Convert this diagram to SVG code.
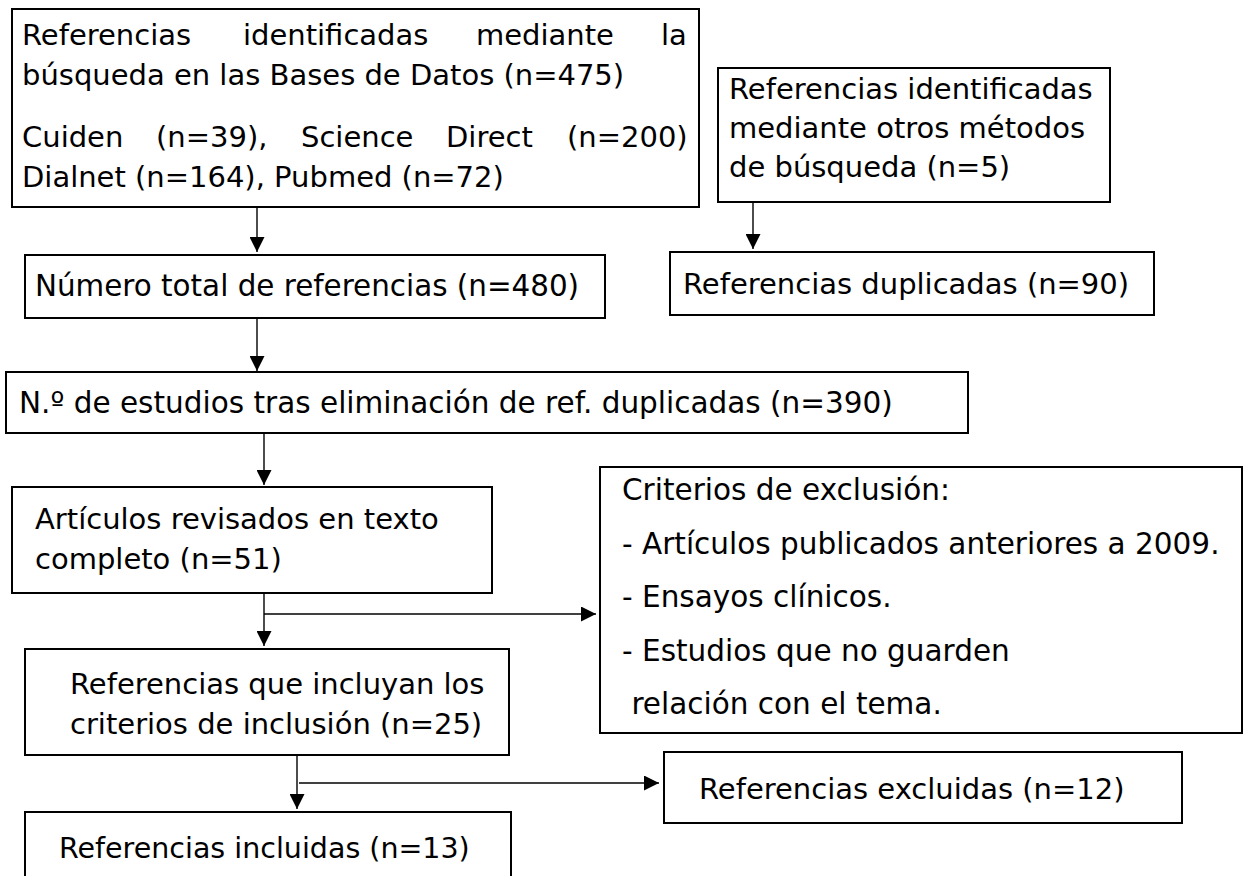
<svg xmlns="http://www.w3.org/2000/svg" width="1245" height="876" viewBox="0 0 1245 876">
<defs>
<marker id="ah" markerUnits="userSpaceOnUse" markerWidth="15" markerHeight="15" refX="15" refY="7.5" orient="auto" viewBox="0 0 15 15">
<path d="M0,0 L15,7.5 L0,15 z" fill="#000"/>
</marker>
<style>
.box{fill:#fff;stroke:#000;stroke-width:2}
.t{font-family:"DejaVu Sans",Verdana,sans-serif;font-size:29px;fill:#000}
.c{fill:none;stroke:#000;stroke-width:1.4}
</style>
</defs>
<rect width="1245" height="876" fill="#fff"/>
<g id="n1">
<rect class="box" x="12" y="9" width="687" height="198"/>
<text class="t" y="45"><tspan x="22">Referencias</tspan><tspan x="243">identificadas</tspan><tspan x="476">mediante</tspan><tspan x="661">la</tspan></text>
<text class="t" x="22" y="85">búsqueda en las Bases de Datos (n=475)</text>
<text class="t" y="147"><tspan x="22">Cuiden</tspan><tspan x="156">(n=39),</tspan><tspan x="301">Science</tspan><tspan x="446">Direct</tspan><tspan x="567">(n=200)</tspan></text>
<text class="t" x="22" y="187">Dialnet (n=164), Pubmed (n=72)</text>
</g>
<g id="n2">
<rect class="box" x="718" y="68" width="392" height="134"/>
<text class="t" x="729" y="99">Referencias identificadas</text>
<text class="t" x="729" y="138">mediante otros métodos</text>
<text class="t" x="729" y="177">de búsqueda (n=5)</text>
</g>
<g id="n3">
<rect class="box" x="25" y="255" width="580" height="63"/>
<text class="t" x="35" y="296" style="font-size:29.4px">Número total de referencias (n=480)</text>
</g>
<g id="n4">
<rect class="box" x="670" y="252" width="484" height="63"/>
<text class="t" x="683" y="294">Referencias duplicadas (n=90)</text>
</g>
<g id="n5">
<rect class="box" x="6" y="372" width="962" height="61"/>
<text class="t" x="19" y="413" style="font-size:29.5px">N.º de estudios tras eliminación de ref. duplicadas (n=390)</text>
</g>
<g id="n6">
<rect class="box" x="12" y="487" width="480" height="106"/>
<text class="t" x="35" y="529">Artículos revisados en texto</text>
<text class="t" x="35" y="569">completo (n=51)</text>
</g>
<g id="n7">
<rect class="box" x="600" y="467" width="642" height="266"/>
<text class="t" x="622" y="500" style="font-size:29.5px">Criterios de exclusión:</text>
<text class="t" x="622" y="554" style="font-size:29.5px">- Artículos publicados anteriores a 2009.</text>
<text class="t" x="622" y="607" style="font-size:29.5px">- Ensayos clínicos.</text>
<text class="t" x="622" y="661" style="font-size:29.5px">- Estudios que no guarden</text>
<text class="t" x="622" y="714" style="font-size:29.5px" xml:space="preserve"> relación con el tema.</text>
</g>
<g id="n8">
<rect class="box" x="25" y="649" width="484" height="106"/>
<text class="t" x="70" y="694">Referencias que incluyan los</text>
<text class="t" x="70" y="734">criterios de inclusión (n=25)</text>
</g>
<g id="n9">
<rect class="box" x="664" y="752" width="518" height="71"/>
<text class="t" x="699" y="799">Referencias excluidas (n=12)</text>
</g>
<g id="n10">
<rect class="box" x="25" y="812" width="486" height="70"/>
<text class="t" x="59" y="858" style="font-size:28.5px">Referencias incluidas (n=13)</text>
</g>
<g id="connectors">
<path class="c" d="M257,207 V252" marker-end="url(#ah)"/>
<path class="c" d="M753,202 V249" marker-end="url(#ah)"/>
<path class="c" d="M257,318 V371" marker-end="url(#ah)"/>
<path class="c" d="M264,433 V485" marker-end="url(#ah)"/>
<path class="c" d="M264,593 V646" marker-end="url(#ah)"/>
<path class="c" d="M264,614 H596" marker-end="url(#ah)"/>
<path class="c" d="M297,755 V809" marker-end="url(#ah)"/>
<path class="c" d="M299,783 H659" marker-end="url(#ah)"/>
</g>
</svg>
